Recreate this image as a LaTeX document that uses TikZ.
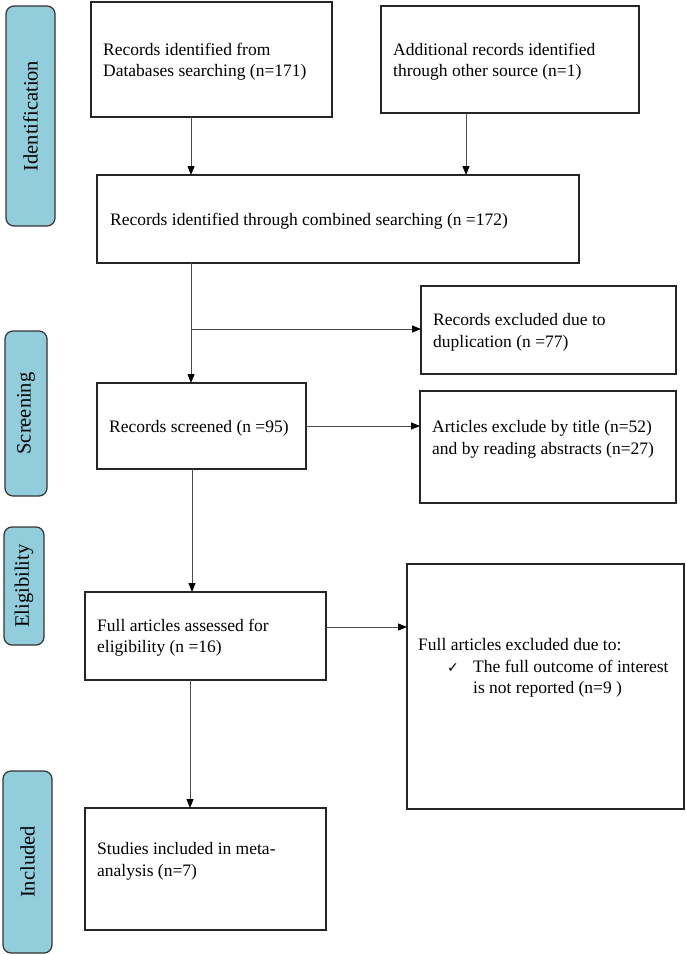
\documentclass[tikz,border=0pt]{standalone}
\usepackage{fontspec}
\setmainfont{Liberation Serif}
\newfontfamily\symfont{DejaVu Sans}
\usetikzlibrary{arrows.meta,calc}
\definecolor{pillblue}{HTML}{92CDDC}
\begin{document}
\begin{tikzpicture}[x=1pt,y=-1pt,
  box/.style={draw=black!85,line width=1.2pt,rectangle,inner sep=0pt,outer sep=0pt},
  txt/.style={anchor=west,align=left,inner sep=0pt,font=\fontsize{17.5}{21.5}\selectfont},
  pill/.style={draw=black!80,line width=1.2pt,fill=pillblue,rounded corners=8pt,inner sep=0pt,outer sep=0pt},
  pilltxt/.style={rotate=90,font=\fontsize{20.5}{24}\selectfont,inner sep=0pt},
  conn/.style={draw=black!70,line width=0.9pt},
  arr/.style={conn,-{Triangle[length=9pt,width=7pt,color=black]}}]
\useasboundingbox[fill=white] (0,0) rectangle (685,955);

% phase pills
\node[pill,minimum width=49,minimum height=220] (pI) at (30.5,116) {};
\node[pilltxt] (tI) at (pI.center) {Identification};
\node[pill,minimum width=42,minimum height=165] (pS) at (26,413.5) {};
\node[pilltxt] (tS) at (pS.center) {Screening};
\node[pill,minimum width=40,minimum height=118] (pE) at (24,586) {};
\node[pilltxt] (tE) at (pE.center) {Eligibility};
\node[pill,minimum width=49,minimum height=182] (pN) at (27.5,862) {};
\node[pilltxt] (tN) at (pN.center) {Included};

% boxes
\node[box,minimum width=241,minimum height=115] (A) at (211.5,59.5) {};
\node[box,minimum width=258,minimum height=107] (B) at (510,59.5) {};
\node[box,minimum width=482,minimum height=88] (C) at (338,219) {};
\node[box,minimum width=255,minimum height=88] (D) at (548.5,330) {};
\node[box,minimum width=209,minimum height=86] (S) at (201.5,426) {};
\node[box,minimum width=256,minimum height=112] (E) at (548,447) {};
\node[box,minimum width=241,minimum height=88] (F) at (205.5,636) {};
\node[box,minimum width=241,minimum height=122] (G) at (205.5,869) {};
\node[box,minimum width=277,minimum height=245] (H) at (545.5,686.5) {};

% texts
\node[txt] (tA) at (103,61.5) {Records identified from\\Databases searching (n=171)};
\node[txt] (tB) at (393,61.5) {Additional records identified\\through other source (n=1)};
\node[txt] (tC) at (110,220.75) {Records identified through combined searching (n =172)};
\node[txt] (tD) at (433,332.5) {Records excluded due to\\duplication (n =77)};
\node[txt] (tS2) at (109,428.75) {Records screened (n =95)};
\node[txt] (tE2) at (432,439.5) {Articles exclude by title (n=52)\\and by reading abstracts (n=27)};
\node[txt] (tF) at (97,637.5) {Full articles assessed for\\eligibility (n =16)};
\node[txt] (tG) at (97,861.5) {Studies included in meta-\\analysis (n=7)};
\node[txt] (tH) at (418,668) {Full articles excluded due to:\\\hspace*{29pt}\makebox[26pt][l]{\symfont\fontsize{14}{21.5}\selectfont ✓}The full outcome of interest\\\hspace*{55pt}is not reported (n=9 )};

% connectors
\coordinate (a1) at ($(A.south)+(-20.5,0)$);
\draw[arr] (a1) -- (a1 |- C.north);
\coordinate (b1) at ($(B.south)+(-44,0)$);
\draw[arr] (b1) -- (b1 |- C.north);
\coordinate (cs) at ($(C.south)+(-147,0)$);
\draw[arr] (cs) -- (cs |- S.north);
\coordinate (br) at ($(cs)+(0,66)$);
\draw[arr] (br) -- (br -| D.west);
\draw[arr] (S.east) -- (S.east -| E.west);
\coordinate (s1) at ($(S.south)+(-9.5,0)$);
\draw[arr] (s1) -- (s1 |- F.north);
\coordinate (f1) at ($(F.south)+(-15.5,0)$);
\draw[arr] (f1) -- (f1 |- G.north);
\coordinate (fe) at ($(F.east)+(0,-9)$);
\draw[arr] (fe) -- (fe -| H.west);
\end{tikzpicture}
\end{document}
